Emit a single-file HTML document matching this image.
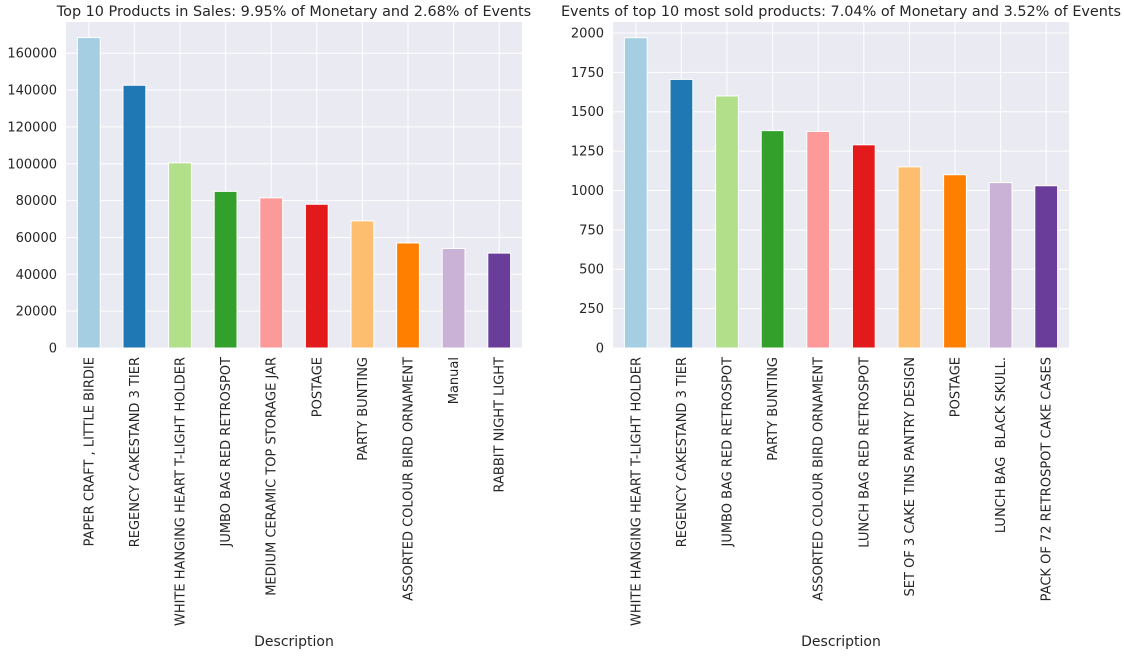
<!DOCTYPE html>
<html><head><meta charset="utf-8"><style>
body{margin:0;background:#fff;width:1124px;height:654px;overflow:hidden}
svg text{font-family:"DejaVu Sans","Liberation Sans",sans-serif;fill:#262626;white-space:pre}
</style></head><body>
<svg id="c" width="1124" height="654"></svg>
<script>
const leftCats=["PAPER CRAFT , LITTLE BIRDIE","REGENCY CAKESTAND 3 TIER","WHITE HANGING HEART T-LIGHT HOLDER","JUMBO BAG RED RETROSPOT","MEDIUM CERAMIC TOP STORAGE JAR","POSTAGE","PARTY BUNTING","ASSORTED COLOUR BIRD ORNAMENT","Manual","RABBIT NIGHT LIGHT"];
const leftVals=[168500,142600,100500,85000,81500,78000,69000,57000,54000,51500];
const leftTicks=[0,20000,40000,60000,80000,100000,120000,140000,160000];
const rightCats=["WHITE HANGING HEART T-LIGHT HOLDER","REGENCY CAKESTAND 3 TIER","JUMBO BAG RED RETROSPOT","PARTY BUNTING","ASSORTED COLOUR BIRD ORNAMENT","LUNCH BAG RED RETROSPOT","SET OF 3 CAKE TINS PANTRY DESIGN","POSTAGE","LUNCH BAG  BLACK SKULL.","PACK OF 72 RETROSPOT CAKE CASES"];
const rightVals=[1970,1705,1600,1380,1375,1290,1150,1100,1050,1030];
const rightTicks=[0,250,500,750,1000,1250,1500,1750,2000];
const colors=["#a6cee3","#1f78b4","#b2df8a","#33a02c","#fb9a99","#e31a1c","#fdbf6f","#ff7f00","#cab2d6","#6a3d9a"];
const svg=document.getElementById('c');
const NS="http://www.w3.org/2000/svg";
function mk(t,a,txt){const e=document.createElementNS(NS,t);for(const k in a)e.setAttribute(k,a[k]);if(txt!==undefined)e.textContent=txt;svg.appendChild(e);return e;}
function panel(p,cats,vals,ticks,pxPerUnit,title){
  const x0=p.x0,x1=p.x1,top=22,bot=348,w=x1-x0,step=w/cats.length;
  const y=v=>bot-v*pxPerUnit;
  const xc=i=>x0+step*(i+0.5);
  let e=mk('rect',{x:x0,y:top,width:w,height:bot-top,fill:'#eaeaf2'});
  
  
  ticks.forEach(t=>{
    e=mk('line',{x1:x0,x2:x1,y1:y(t),y2:y(t),stroke:'#fff','stroke-width':1});
    
    
    e=mk('text',{x:x0-9,y:y(t)+4.5,'text-anchor':'end','font-size':13},String(t));
    
    
  });
  cats.forEach((c,i)=>{
    e=mk('line',{x1:xc(i),x2:xc(i),y1:top,y2:bot,stroke:'#fff','stroke-width':1});
    
    
  });
  cats.forEach((c,i)=>{
    const bw=step*0.5;
    e=mk('rect',{x:xc(i)-bw/2,y:y(vals[i]),width:bw,height:bot-y(vals[i]),fill:colors[i],stroke:'#fff','stroke-width':1});
    
    
    e=mk('text',{x:0,y:0,'text-anchor':'end','font-size':13,'xml:space':'preserve',transform:`translate(${xc(i)+4.5},${bot+9}) rotate(-90)`},c);
    
    
  });
  e=mk('text',{x:(x0+x1)/2,y:646,'text-anchor':'middle','font-size':14},'Description');
  
  
  e=mk('text',{x:(x0+x1)/2,y:16,'text-anchor':'middle','font-size':14.4},title);
  
  
}
panel({id:'sales',x0:66,x1:522},leftCats,leftVals,leftTicks,36.85/20000,'Top 10 Products in Sales: 9.95% of Monetary and 2.68% of Events');
panel({id:'events',x0:613,x1:1069},rightCats,rightVals,rightTicks,39.38/250,'Events of top 10 most sold products: 7.04% of Monetary and 3.52% of Events');
</script>
</body></html>
